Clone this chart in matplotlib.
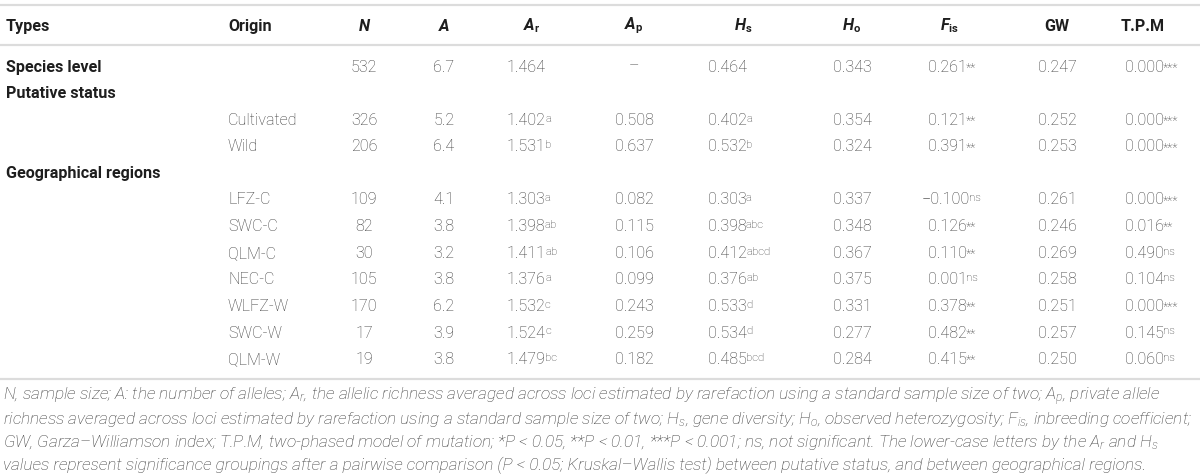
import matplotlib
matplotlib.use('Agg')
import matplotlib.pyplot as plt

plt.rcParams['font.family'] = ['Roboto', 'DejaVu Sans']
plt.rcParams['mathtext.fontset'] = 'custom'
plt.rcParams['mathtext.rm'] = 'Roboto'
plt.rcParams['mathtext.it'] = 'Roboto:italic'
plt.rcParams['mathtext.bf'] = 'Roboto:bold'
plt.rcParams['mathtext.default'] = 'regular'

# table data (one entry per data row, top to bottom)
origins = ['', 'Cultivated', 'Wild', 'LFZ-C', 'SWC-C', 'QLM-C', 'NEC-C', 'WLFZ-W', 'SWC-W', 'QLM-W']
N = [532, 326, 206, 109, 82, 30, 105, 170, 17, 19]
A = [6.7, 5.2, 6.4, 4.1, 3.8, 3.2, 3.8, 6.2, 3.9, 3.8]
Ar = [1.464, 1.402, 1.531, 1.303, 1.398, 1.411, 1.376, 1.532, 1.524, 1.479]
Ar_grp = ['', 'a', 'b', 'a', 'ab', 'ab', 'a', 'c', 'c', 'bc']
Ap = [None, 0.508, 0.637, 0.082, 0.115, 0.106, 0.099, 0.243, 0.259, 0.182]
Hs = [0.464, 0.402, 0.532, 0.303, 0.398, 0.412, 0.376, 0.533, 0.534, 0.485]
Hs_grp = ['', 'a', 'b', 'a', 'abc', 'abcd', 'ab', 'd', 'd', 'bcd']
Ho = [0.343, 0.354, 0.324, 0.337, 0.348, 0.367, 0.375, 0.331, 0.277, 0.284]
Fis = [0.261, 0.121, 0.391, -0.100, 0.126, 0.110, 0.001, 0.378, 0.482, 0.415]
Fis_sig = ['**', '**', '**', 'ns', '**', '**', 'ns', '**', '**', '**']
GW = [0.247, 0.252, 0.253, 0.261, 0.246, 0.269, 0.258, 0.251, 0.257, 0.250]
TPM = [0.000, 0.000, 0.000, 0.000, 0.016, 0.490, 0.104, 0.000, 0.145, 0.060]
TPM_sig = ['***', '***', '***', '***', '**', 'ns', 'ns', '***', 'ns', 'ns']

groups = ['Species level', 'Putative status', 'Geographical regions']
group_slots = [0, 1, 4]
data_slots = [0, 2, 3, 5, 6, 7, 8, 9, 10, 11]

headers = ['Types', 'Origin', 'N', 'A', r'A$_\mathbf{r}$', r'A$_\mathbf{p}$', r'H$_\mathbf{s}$',
           r'H$_\mathbf{o}$', r'F$_\mathbf{is}$', 'GW', 'T.P.M']
header_italic = [False, False, True, True, True, True, True, True, True, False, False]

notes = [
    'N, sample size; A: the number of alleles; A$_r$, the allelic richness averaged across loci estimated by rarefaction using a standard sample size of two; A$_p$, private allele',
    'richness averaged across loci estimated by rarefaction using a standard sample size of two; H$_s$, gene diversity; H$_o$, observed heterozygosity; F$_{is}$, inbreeding coefficient;',
    'GW, Garza\u2013Williamson index; T.P.M, two-phased model of mutation; *P < 0.05, **P < 0.01, ***P < 0.001; ns, not significant. The lower-case letters by the A$_r$ and H$_s$',
    'values represent significance groupings after a pairwise comparison (P < 0.05; Kruskal\u2013Wallis test) between putative status, and between geographical regions.',
]

# layout (pixel coords)
W, H = 1200, 474
header_x = [6, 228, 364, 444, 532, 634, 743, 852, 950, 1057, 1143]
header_ha = ['left', 'left'] + ['center'] * 9
header_y = 26
row0, row_step = 67, 26.6
body_col = '#3a3a3a'
head_col = '#1e1e1e'
rule_col = '#dcdcdc'
fs = 11.6

fig = plt.figure(figsize=(W / 100, H / 100), dpi=100)
ax = fig.add_axes([0, 0, 1, 1])
ax.set_xlim(0, W)
ax.set_ylim(H, 0)
ax.axis('off')

for y in [5, 45, 379]:
    ax.plot([0, W], [y, y], color=rule_col, lw=1.6, solid_capstyle='butt')

for lab, x, ha, it in zip(headers, header_x, header_ha, header_italic):
    ax.text(x, header_y, lab, ha=ha, va='center', fontsize=fs, fontweight='bold',
            style='italic' if it else 'normal', color=head_col)

def rowy(slot):
    return row0 + slot * row_step

for g, s in zip(groups, group_slots):
    ax.text(6, rowy(s), g, ha='left', va='center', fontsize=fs, fontweight='bold', color=head_col)

def cell(x, y, s, ha='center', sup=''):
    t = ax.text(x, y, s, ha=ha, va='center', fontsize=fs, fontweight='light', color=body_col)
    if sup:
        small = sup.strip('*') == ''
        ax.annotate(sup, xy=(1, 1), xycoords=t, xytext=(-0.6, -1.6 if small else -0.6),
                    textcoords='offset points', ha='left', va='top',
                    fontsize=8.8 if small else 8.2, fontweight='light', color=body_col)
    return t

def f3(v):
    return f'{v:.3f}'.replace('-', '\u2212')

for i, s in enumerate(data_slots):
    y = rowy(s)
    if origins[i]:
        cell(228, y, origins[i], ha='left')
    cell(364, y, str(N[i]))
    cell(444, y, f'{A[i]:.1f}')
    cell(507, y, f3(Ar[i]), ha='left', sup=Ar_grp[i])
    cell(634, y, '\u2013' if Ap[i] is None else f3(Ap[i]))
    cell(708, y, f3(Hs[i]), ha='left', sup=Hs_grp[i])
    cell(852, y, f3(Ho[i]))
    cell(928 if Fis[i] >= 0 else 922, y, f3(Fis[i]), ha='left', sup=Fis_sig[i])
    cell(1057, y, f3(GW[i]))
    cell(1125, y, f3(TPM[i]), ha='left', sup=TPM_sig[i])

for k, line in enumerate(notes):
    ax.text(3, 397 + k * 22.7, line, ha='left', va='center', fontsize=12.4,
            style='italic', fontweight='light', color=body_col)

fig.savefig('out.png', dpi=100)
